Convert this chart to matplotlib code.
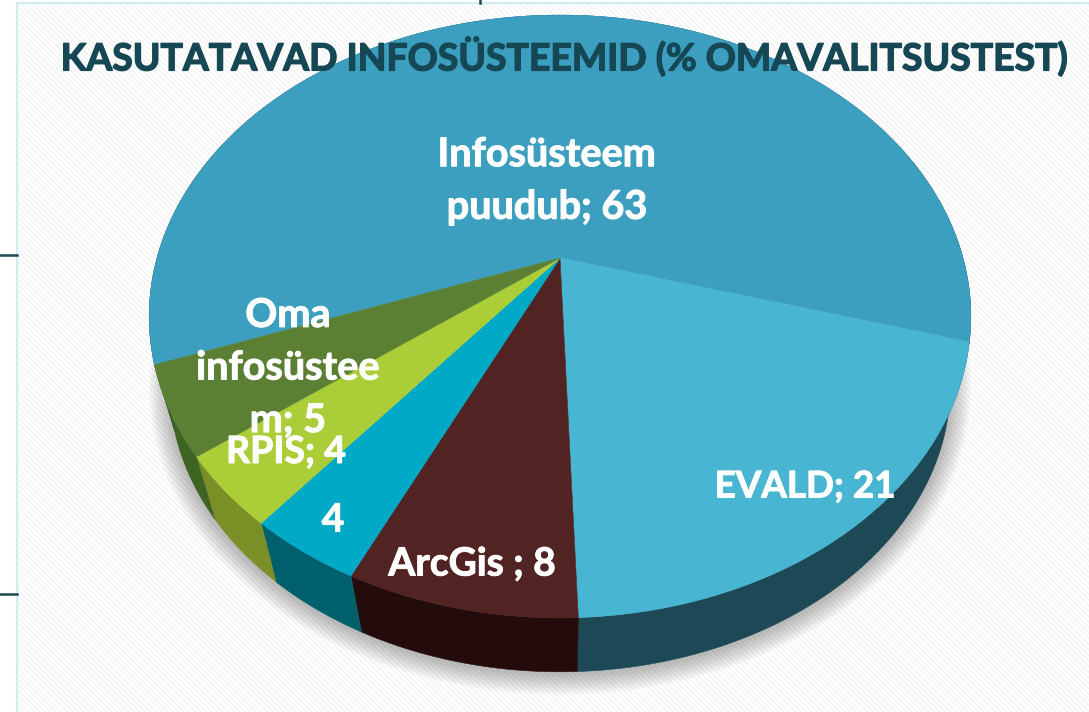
import numpy as np
import matplotlib
matplotlib.use("Agg")
import matplotlib.pyplot as plt
import matplotlib.patheffects as pe
from matplotlib.patches import Polygon, Rectangle

# ----------------------------------------------------------------------
# Data
# ----------------------------------------------------------------------
systems = ["Infosüsteem puudub", "EVALD", "ArcGis", "", "RPIS", "Oma infosüsteem"]
shares = [63, 21, 8, 4, 4, 5]
label_texts = ["Infosüsteem\npuudub; 63", "EVALD; 21", "ArcGis ; 8", "4", "RPIS; 4", "Oma\ninfosüstee\nm; 5"]
title_text = "KASUTATAVAD INFOSÜSTEEMID (% OMAVALITSUSTEST)"

top_colors = ["#3C9FBF", "#48B6D3", "#512323", "#00A9C5", "#ABCD38", "#5B8033"]
side_colors = ["#1C4955", "#1C4955", "#240C0C", "#005F6D", "#7A8F26", "#3E6423"]
label_pos = [(547, 181), (805, 487), (472, 564), (333, 520), (286, 452), (288, 368)]
label_sizes = [28.5, 26.5, 28, 28, 27, 28.5]

# Perspective disc, picture pixels
CX, CY = 560, 258
RX, RY, TILT = 403, 290, 0.194
START_ANGLE = 200.1
DEPTH_SCALE, DEPTH_SHIFT = 0.95, 72


def project(theta, scale=1.0, shift=0.0):
    u, v = np.cos(theta), np.sin(theta)
    w = 1 + TILT * v
    return CX + scale * RX * u / w, CY + shift - scale * RY * v / w


def arc(a0, a1, scale=1.0, shift=0.0):
    t = np.linspace(a0, a1, 160)
    return np.column_stack(project(t, scale, shift))


fig = plt.figure(figsize=(10.89, 7.12), dpi=100)
ax = fig.add_axes([0, 0, 1, 1])
ax.set_xlim(0, 1089)
ax.set_ylim(712, 0)
ax.axis("off")

# Background panel and the small marks outside it
ax.add_patch(Rectangle((17, 3), 1090, 720, facecolor="#FFFFFF", edgecolor="#F3F3F3",
                       hatch="\\\\\\\\\\\\", linewidth=0, zorder=0))
ax.plot([17, 1089], [3, 3], color="#D3ECF3", lw=1.6, zorder=1)
ax.plot([17, 17], [3, 712], color="#D3ECF3", lw=1.6, zorder=1)
ax.plot([0, 17], [255, 255], color="#1C4955", lw=1.8, zorder=1)
ax.plot([0, 17], [594, 594], color="#1C4955", lw=1.8, zorder=1)
ax.plot([480, 480], [0, 3], color="#1C4955", lw=1.8, zorder=1)

# Soft shadow below the disc
rim = arc(0, 2 * np.pi, DEPTH_SCALE, DEPTH_SHIFT + 2)
for lw in np.arange(30, 0, -3):
    ax.add_patch(Polygon(rim, closed=True, facecolor="none", edgecolor="#000000",
                         alpha=0.028, linewidth=lw, zorder=2))

# Slices: sides first, then the top faces
angles = np.radians(START_ANGLE - 360 * np.cumsum([0] + shares) / sum(shares))
for i in range(len(shares)):
    a0, a1 = angles[i], angles[i + 1]
    top = arc(a0, a1)
    low = arc(a0, a1, DEPTH_SCALE, DEPTH_SHIFT)
    ax.add_patch(Polygon(np.vstack([top, low[::-1]]), closed=True, facecolor=side_colors[i],
                         edgecolor=side_colors[i], linewidth=0.4, zorder=3))

for i in range(len(shares)):
    a0, a1 = angles[i], angles[i + 1]
    ax.add_patch(Polygon(np.vstack([[CX, CY], arc(a0, a1)]), closed=True, facecolor=top_colors[i],
                         edgecolor=top_colors[i], linewidth=0.4, zorder=4))

# Labels
for text, (x, y), size in zip(label_texts, label_pos, label_sizes):
    ax.text(x, y, text, color="white", fontsize=size, fontweight="bold", family="Lato",
            ha="center", va="center", linespacing=1.52, zorder=6,
            path_effects=[pe.withStroke(linewidth=0.7, foreground="white")])

ax.text(564, 57, title_text, color="#154754", fontsize=26.9, fontweight="bold", family="Lato",
        ha="center", va="center", zorder=7,
        path_effects=[pe.withStroke(linewidth=1.0, foreground="#154754")])

fig.savefig("out.png", dpi=100)
